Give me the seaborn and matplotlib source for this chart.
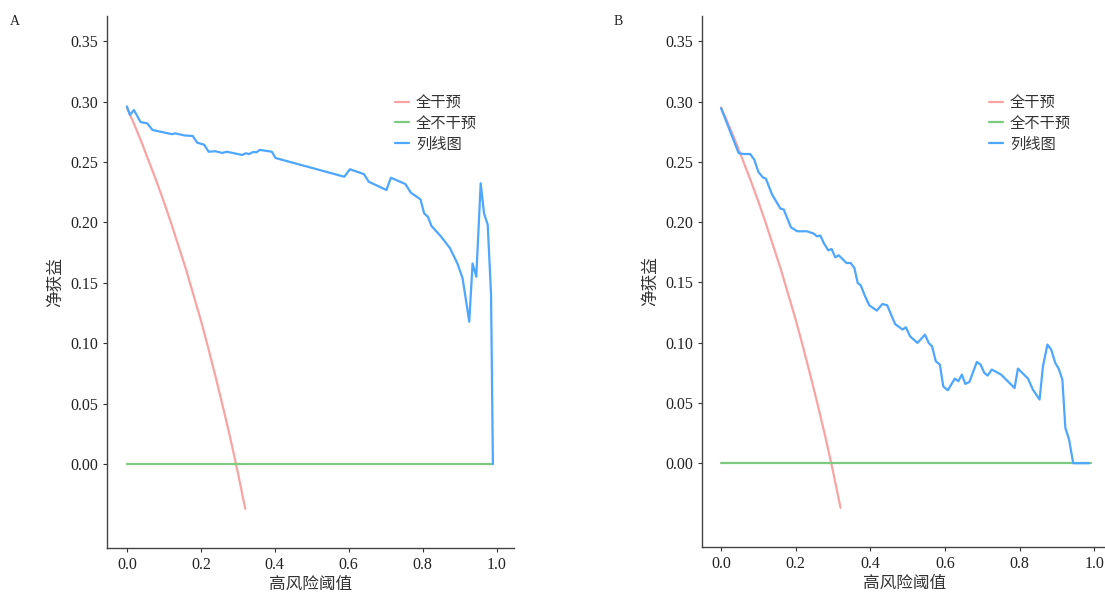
import numpy as np
import pandas as pd
import seaborn as sns
import matplotlib.pyplot as plt

# threshold probabilities / net benefit values
all_pt = [0.0, 0.02, 0.04, 0.06, 0.08, 0.10, 0.12, 0.14, 0.16, 0.18, 0.20,
          0.22, 0.24, 0.26, 0.28, 0.30, 0.32]
all_nb = [0.295, 0.281, 0.266, 0.250, 0.234, 0.217, 0.199, 0.180, 0.161, 0.140,
          0.119, 0.096, 0.072, 0.047, 0.021, -0.007, -0.037]

none_pt = [0.0, 0.99]
none_nb = [0.0, 0.0]

a_pt = [0.0, 0.008, 0.019, 0.037, 0.055, 0.069, 0.122, 0.130, 0.156, 0.178, 0.190,
        0.209, 0.221, 0.239, 0.258, 0.270, 0.312, 0.321, 0.331, 0.341, 0.350, 0.360,
        0.392, 0.402, 0.588, 0.603, 0.641, 0.654, 0.702, 0.714, 0.753, 0.768, 0.794,
        0.804, 0.814, 0.824, 0.850, 0.874, 0.894, 0.908, 0.926, 0.935, 0.945, 0.957,
        0.966, 0.976, 0.985, 0.990]
a_nb = [0.296, 0.289, 0.293, 0.283, 0.282, 0.2765, 0.273, 0.2737, 0.272, 0.2715, 0.266,
        0.2643, 0.2585, 0.2589, 0.2575, 0.2585, 0.2558, 0.2572, 0.2566, 0.2583, 0.258, 0.260,
        0.2585, 0.2533, 0.2378, 0.244, 0.240, 0.2337, 0.2268, 0.237, 0.2318, 0.2246, 0.2191,
        0.2075, 0.2047, 0.197, 0.1882, 0.1786, 0.166, 0.1537, 0.1178, 0.166, 0.155, 0.2324,
        0.2075, 0.198, 0.140, 0.0]

b_pt = [0.0, 0.047, 0.060, 0.078, 0.089, 0.100, 0.112, 0.120, 0.136, 0.159, 0.168,
        0.187, 0.204, 0.230, 0.248, 0.257, 0.266, 0.275, 0.287, 0.296, 0.306, 0.315,
        0.336, 0.347, 0.357, 0.366, 0.374, 0.385, 0.397, 0.417, 0.432, 0.445, 0.466,
        0.486, 0.495, 0.506, 0.526, 0.546, 0.556, 0.565, 0.575, 0.586, 0.595, 0.607,
        0.626, 0.635, 0.645, 0.654, 0.665, 0.685, 0.695, 0.705, 0.714, 0.725, 0.750,
        0.786, 0.795, 0.822, 0.835, 0.853, 0.862, 0.874, 0.884, 0.895, 0.904, 0.914,
        0.922, 0.932, 0.943, 0.985]
b_nb = [0.2946, 0.2573, 0.2565, 0.2565, 0.2518, 0.2416, 0.2371, 0.2361, 0.2233, 0.2112, 0.2104,
        0.1957, 0.1924, 0.1924, 0.1905, 0.1882, 0.1888, 0.1827, 0.1766, 0.1777, 0.1708, 0.1725,
        0.1661, 0.1661, 0.162, 0.1495, 0.1476, 0.139, 0.131, 0.1266, 0.1321, 0.131, 0.1155,
        0.1109, 0.1128, 0.1053, 0.0998, 0.1067, 0.0998, 0.097, 0.0846, 0.0818, 0.0638, 0.0605,
        0.0702, 0.068, 0.0735, 0.0658, 0.0674, 0.084, 0.0818, 0.0749, 0.0727, 0.0777, 0.0735,
        0.0624, 0.0785, 0.0702, 0.0611, 0.0528, 0.0804, 0.0984, 0.0943, 0.0832, 0.0785, 0.0694,
        0.0293, 0.0196, 0.0, 0.0]

labels = ['全干预', '全不干预', '列线图']
colors = {'全干预': '#F9A3A3', '全不干预': '#7DC97D', '列线图': '#4DA6FF'}

sns.set_style('white')
plt.rcParams['font.family'] = ['Liberation Serif', 'Noto Sans CJK SC']
plt.rcParams['axes.unicode_minus'] = False


def make_df(model_pt, model_nb):
    parts = [pd.DataFrame({'pt': all_pt, 'nb': all_nb, 'group': labels[0]}),
             pd.DataFrame({'pt': none_pt, 'nb': none_nb, 'group': labels[1]}),
             pd.DataFrame({'pt': model_pt, 'nb': model_nb, 'group': labels[2]})]
    return pd.concat(parts, ignore_index=True)


fig = plt.figure(figsize=(11.05, 5.92), dpi=100)
ax_a = fig.add_axes([0.0968, 0.0743, 0.368, 0.899])
ax_b = fig.add_axes([0.6353, 0.0760, 0.367, 0.897])

panels = [(ax_a, make_df(a_pt, a_nb), 'A', 0.0136, (-0.054, 1.046)),
          (ax_b, make_df(b_pt, b_nb), 'B', 0.5593, (-0.051, 1.035))]

for ax, df, letter, lx, xl in panels:
    sns.lineplot(data=df, x='pt', y='nb', hue='group', hue_order=labels,
                 palette=colors, estimator=None, sort=False, linewidth=1.6, ax=ax)
    ax.set_xlim(*xl)
    ax.set_ylim(-0.0695, 0.371)
    ax.set_xticks([0.0, 0.2, 0.4, 0.6, 0.8, 1.0])
    ax.set_xticklabels(['0.0', '0.2', '0.4', '0.6', '0.8', '1.0'])
    ax.set_yticks([0.0, 0.05, 0.10, 0.15, 0.20, 0.25, 0.30, 0.35])
    ax.set_yticklabels(['0.00', '0.05', '0.10', '0.15', '0.20', '0.25', '0.30', '0.35'])
    ax.tick_params(axis='both', labelsize=11.5, colors='#333333', length=3,
                   width=0.8, direction='out', left=True, bottom=True, labelcolor='#222222')
    for s in ['top', 'right']:
        ax.spines[s].set_visible(False)
    for s in ['left', 'bottom']:
        ax.spines[s].set_color('#444444')
        ax.spines[s].set_linewidth(1.0)
    ax.set_xlabel('高风险阈值', fontsize=12, color='#333333', labelpad=2.5)
    ax.set_ylabel('净获益', fontsize=12, color='#333333')
    ax.yaxis.set_label_coords(-0.105, 0.5)
    leg = ax.legend(loc='upper left', bbox_to_anchor=(0.675, 0.875), frameon=False,
                    fontsize=11, handlelength=0.9, handletextpad=0.45,
                    labelspacing=0.45, title=None)
    for t in leg.get_texts():
        t.set_color('#333333')
    fig.text(lx, 0.963, letter, fontsize=10, color='#222222', ha='center', va='center')

fig.savefig('out.png', dpi=100)
